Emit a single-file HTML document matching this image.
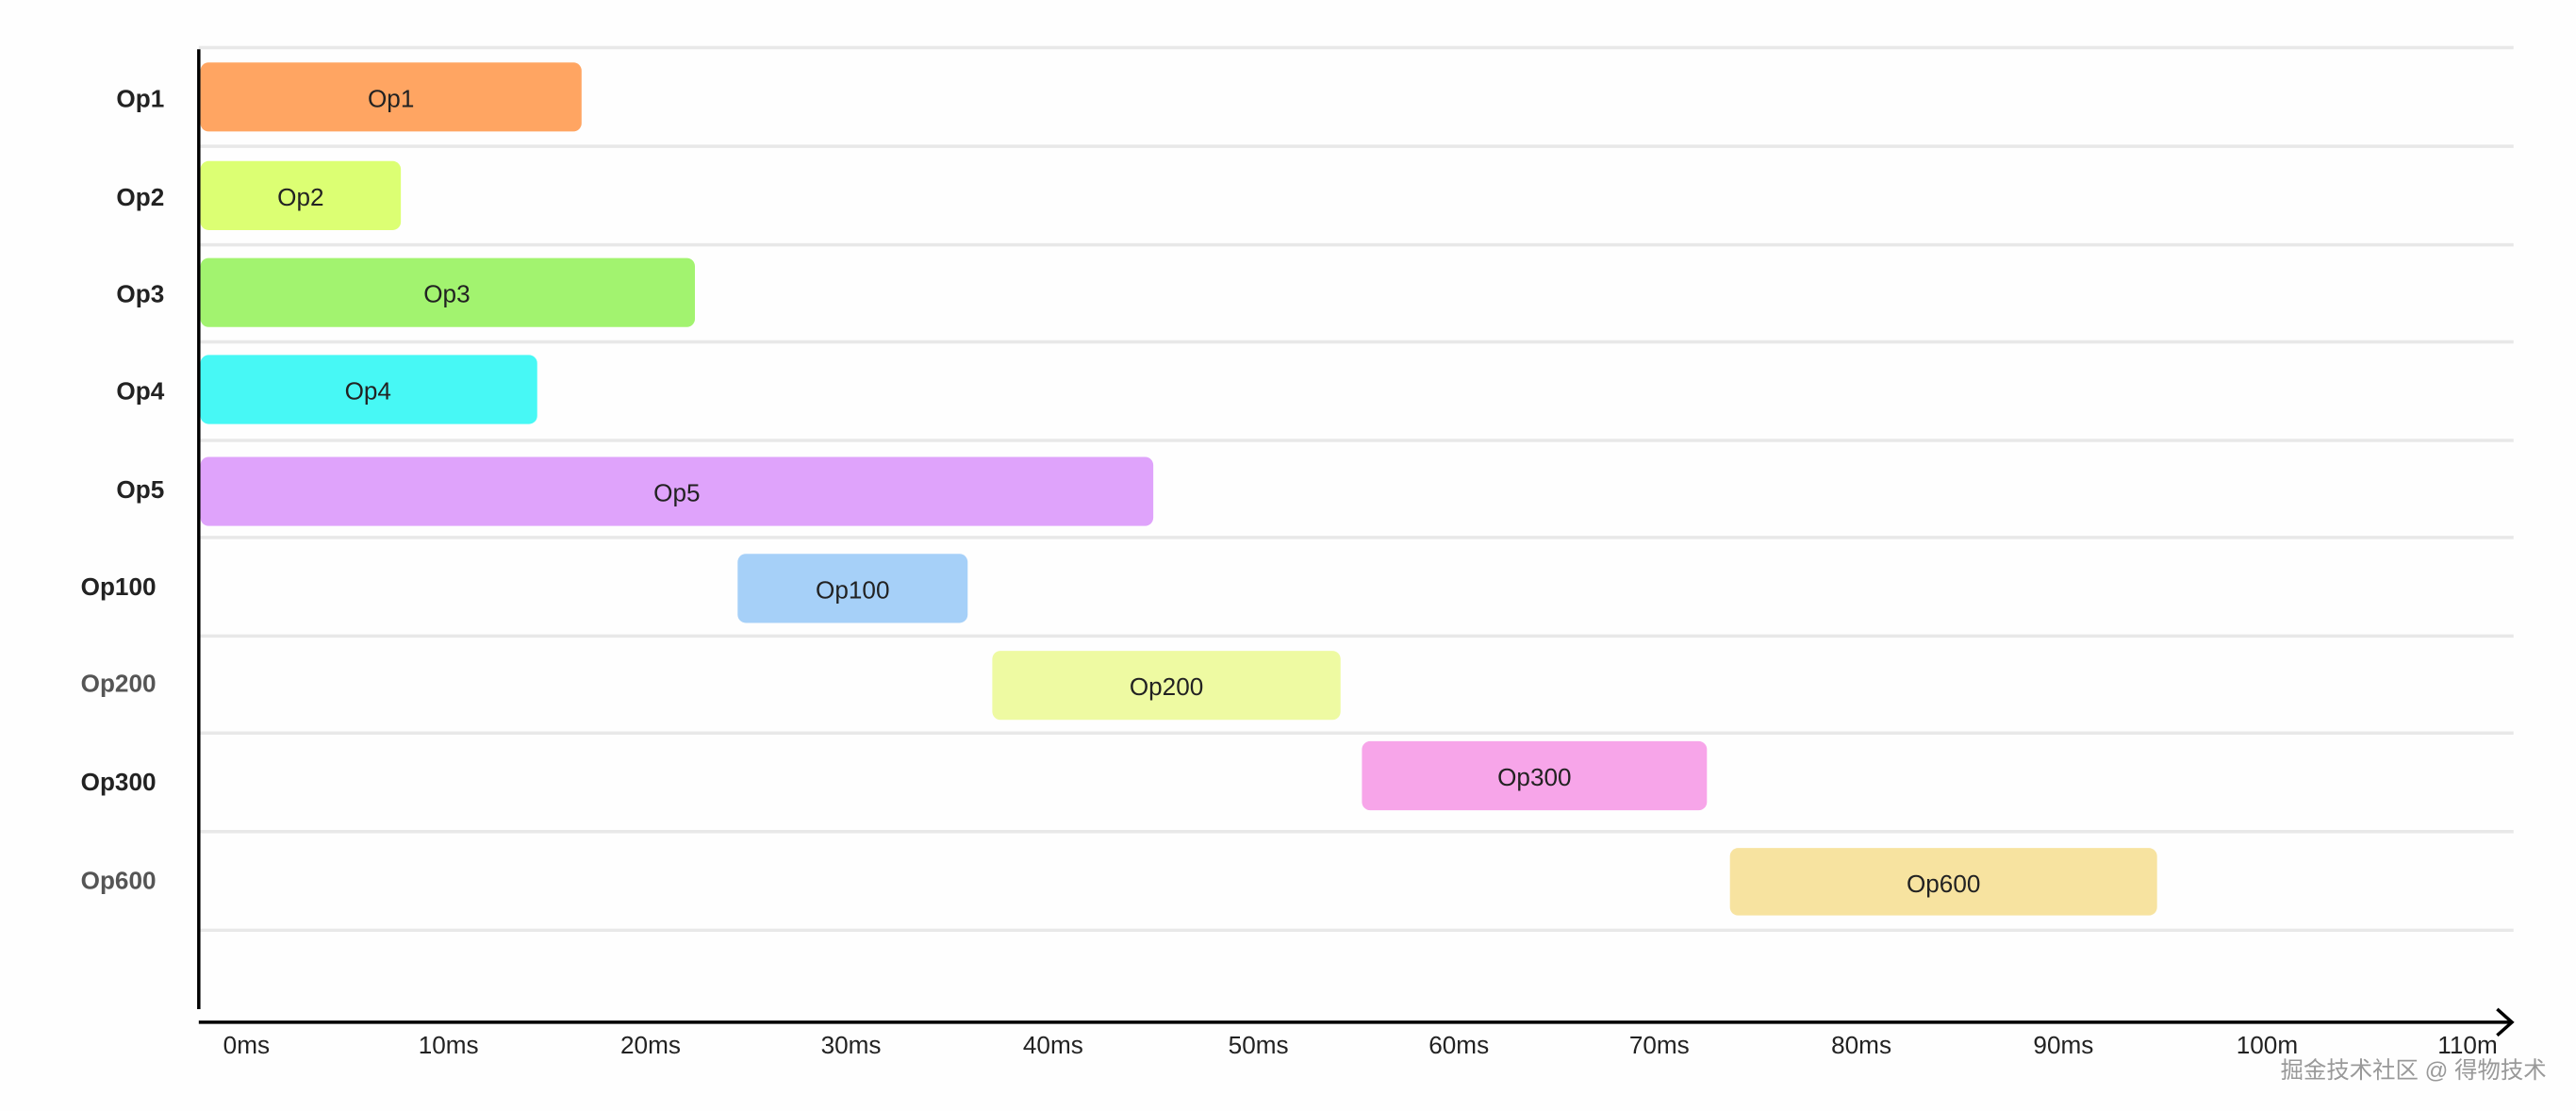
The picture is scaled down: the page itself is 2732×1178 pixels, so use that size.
<!DOCTYPE html>
<html><head><meta charset="utf-8"><style>
html,body{margin:0;padding:0;background:#fefefe;}
svg{display:block}
</style></head><body>
<svg width="2732" height="1178" viewBox="0 0 1568 676" preserveAspectRatio="none" xmlns="http://www.w3.org/2000/svg" font-family="Liberation Sans, DejaVu Sans, sans-serif">
<rect width="1568" height="676" fill="#fefefe"/>
<g stroke="#e8e8e8" stroke-width="2">
<line x1="121" y1="29" x2="1530" y2="29"/>
<line x1="121" y1="89" x2="1530" y2="89"/>
<line x1="121" y1="149" x2="1530" y2="149"/>
<line x1="121" y1="208" x2="1530" y2="208"/>
<line x1="121" y1="268" x2="1530" y2="268"/>
<line x1="121" y1="327" x2="1530" y2="327"/>
<line x1="121" y1="387" x2="1530" y2="387"/>
<line x1="121" y1="446" x2="1530" y2="446"/>
<line x1="121" y1="506" x2="1530" y2="506"/>
<line x1="121" y1="566" x2="1530" y2="566"/>
</g>
<g>
<rect x="122" y="38" width="232" height="42" rx="5" fill="#ffa562"/>
<rect x="122" y="98" width="122" height="42" rx="5" fill="#dcff73"/>
<rect x="122" y="157" width="301" height="42" rx="5" fill="#a2f36f"/>
<rect x="122" y="216" width="205" height="42" rx="5" fill="#47f8f5"/>
<rect x="122" y="278" width="580" height="42" rx="5" fill="#dfa3fb"/>
<rect x="449" y="337" width="140" height="42" rx="5" fill="#a6d0f8"/>
<rect x="604" y="396" width="212" height="42" rx="5" fill="#eefaa2"/>
<rect x="829" y="451" width="210" height="42" rx="5" fill="#f7a5e9"/>
<rect x="1053" y="516" width="260" height="41" rx="5" fill="#f7e3a0"/>
</g>
<g font-size="15" fill="#222" text-anchor="middle">
<text x="238" y="65">Op1</text>
<text x="183" y="125">Op2</text>
<text x="272" y="184">Op3</text>
<text x="224" y="243">Op4</text>
<text x="412" y="305">Op5</text>
<text x="519" y="364">Op100</text>
<text x="710" y="423">Op200</text>
<text x="934" y="478">Op300</text>
<text x="1183" y="543">Op600</text>
</g>
<g font-size="15" font-weight="bold" fill="#222" text-anchor="end">
<text x="100" y="65">Op1</text>
<text x="100" y="125">Op2</text>
<text x="100" y="184">Op3</text>
<text x="100" y="243">Op4</text>
<text x="100" y="303">Op5</text>
<text x="95" y="362">Op100</text>
<text x="95" y="421" fill="#555">Op200</text>
<text x="95" y="481">Op300</text>
<text x="95" y="541" fill="#555">Op600</text>
</g>
<line x1="121" y1="30" x2="121" y2="614" stroke="#000" stroke-width="2"/>
<line x1="121" y1="622" x2="1529" y2="622" stroke="#000" stroke-width="2"/>
<polyline points="1520,614 1529,622 1520,630" fill="none" stroke="#000" stroke-width="2"/>
<g font-size="15" fill="#222" text-anchor="middle">
<text x="150" y="641">0ms</text>
<text x="273" y="641">10ms</text>
<text x="396" y="641">20ms</text>
<text x="518" y="641">30ms</text>
<text x="641" y="641">40ms</text>
<text x="766" y="641">50ms</text>
<text x="888" y="641">60ms</text>
<text x="1010" y="641">70ms</text>
<text x="1133" y="641">80ms</text>
<text x="1256" y="641">90ms</text>
<text x="1380" y="641">100m</text>
<text x="1502" y="641">110m</text>
</g>
<text x="1550" y="656" font-size="14" fill="#999" text-anchor="end" font-family="Liberation Sans, Noto Sans CJK SC, sans-serif">掘金技术社区 @ 得物技术</text>
</svg>
</body></html>
